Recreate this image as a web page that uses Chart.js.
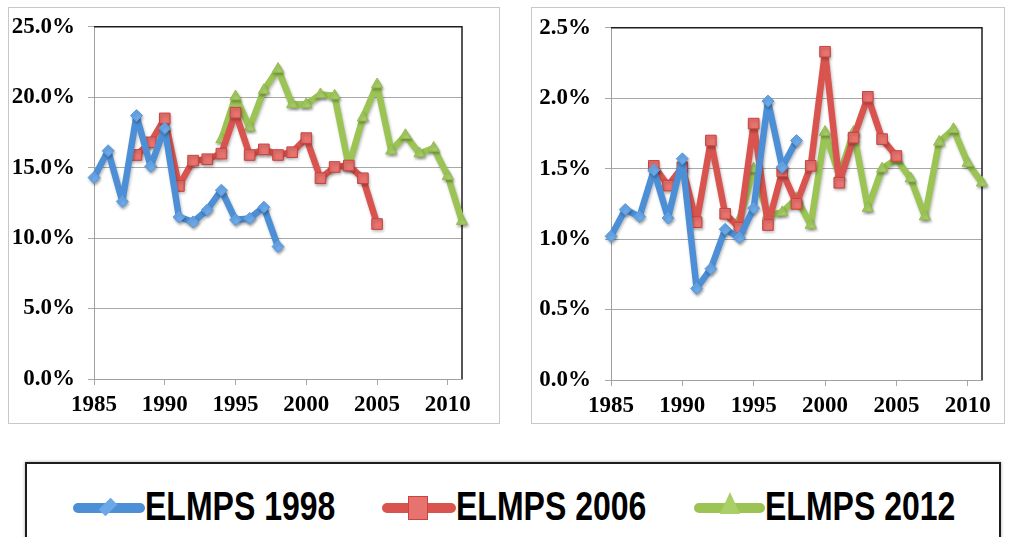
<!DOCTYPE html>
<html>
<head>
<meta charset="utf-8">
<script src="https://cdn.jsdelivr.net/npm/chart.js@4.4.0/dist/chart.umd.min.js"></script>
<style>
  body { margin:0; background:#fff; width:1009px; height:537px; overflow:hidden; position:relative; }
  .box { position:absolute; border:1px solid #c8c8c8; box-sizing:border-box; background:#fff; }
  canvas { position:absolute; top:0; }
  #legend { position:absolute; left:25px; top:462px; width:976px; height:100px; border:2px solid #1e1e1e;
            box-sizing:border-box; background:#fff; box-shadow:0 0 3px rgba(0,0,0,0.35); }
  .item { position:absolute; top:0; height:86px; }
  .ln { position:absolute; top:39px; height:10px; border-radius:5px; }
  .mk { position:absolute; }
  .txt { position:absolute; top:18px; font-family:"Liberation Sans", Arial, sans-serif; font-weight:bold;
         font-size:40px; line-height:48px; color:#000; white-space:nowrap; transform:scaleX(0.8); transform-origin:0 50%; }
</style>
</head>
<body>
<div class="box" style="left:8px;top:7px;width:492px;height:417px;"></div>
<div class="box" style="left:531px;top:7px;width:474px;height:417px;"></div>
<canvas id="left" width="505" height="430" style="left:0"></canvas>
<canvas id="right" width="484" height="430" style="left:525px"></canvas>

<div id="legend">
  <div class="item" style="left:46px">
    <div class="ln" style="left:0;width:72px;background:#4d8fd6"></div>
    <div class="mk" style="left:29px;top:37px;width:12px;height:12px;background:#6aa8e8;transform:rotate(45deg) scale(0.8,1.4)"></div>
    <div class="txt" style="left:72px">ELMPS 1998</div>
  </div>
  <div class="item" style="left:355px">
    <div class="ln" style="left:0;width:74px;background:#d9544f"></div>
    <div class="mk" style="left:26px;top:32px;width:20px;height:24px;background:#e8726e;border:1px solid #c9423e;box-sizing:border-box"></div>
    <div class="txt" style="left:74px">ELMPS 2006</div>
  </div>
  <div class="item" style="left:667px">
    <div class="ln" style="left:0;width:71px;background:#9bc455"></div>
    <div class="mk" style="left:26px;top:28px;width:0;height:0;border-left:10px solid transparent;border-right:10px solid transparent;border-bottom:22px solid #a9cf67"></div>
    <div class="txt" style="left:71px">ELMPS 2012</div>
  </div>
</div>

<script>
// years for each survey
const years1998 = [1985,1986,1987,1988,1989,1990,1991,1992,1993,1994,1995,1996,1997,1998];
const years2006 = [1988,1989,1990,1991,1992,1993,1994,1995,1996,1997,1998,1999,2000,2001,2002,2003,2004,2005];
const years2012 = [1994,1995,1996,1997,1998,1999,2000,2001,2002,2003,2004,2005,2006,2007,2008,2009,2010,2011];

// left panel (percent)
const left1998 = [14.3,16.2,12.6,18.7,15.1,17.8,11.5,11.15,12.0,13.4,11.3,11.4,12.2,9.4];
const left2006 = [15.9,16.8,18.5,13.7,15.5,15.6,16.0,18.9,15.9,16.3,15.9,16.1,17.1,14.25,15.05,15.15,14.25,11.0];
const left2012 = [17.0,20.05,17.85,20.5,22.0,19.5,19.5,20.2,20.1,15.1,18.55,20.9,16.2,17.3,16.0,16.4,14.4,11.2];

// right panel (percent)
const right1998 = [1.02,1.21,1.16,1.49,1.15,1.57,0.65,0.79,1.07,1.01,1.22,1.98,1.51,1.70];
const right2006 = [1.52,1.38,1.51,1.12,1.70,1.18,1.08,1.82,1.10,1.48,1.25,1.52,2.33,1.40,1.72,2.01,1.71,1.59];
const right2012 = [1.14,1.50,1.17,1.19,1.29,1.10,1.76,1.45,1.76,1.22,1.50,1.57,1.43,1.16,1.69,1.78,1.54,1.40];

const seriesNames = ['ELMPS 1998','ELMPS 2006','ELMPS 2012'];

function pairs(xs, ys) {
  return xs.map((x, i) => ({x: x, y: ys[i]}));
}

// top and right border of the plot
const framePlugin = {
  id: 'frame',
  beforeDatasetsDraw(chart) {
    const a = chart.chartArea, c = chart.ctx;
    c.save();
    c.strokeStyle = '#1e1e1e';
    c.lineWidth = 1.5;
    c.beginPath();
    c.moveTo(a.left, a.top);
    c.lineTo(a.right, a.top);
    c.lineTo(a.right, a.bottom);
    c.stroke();
    c.restore();
  }
};

// soft shadow under the lines
const shadowPlugin = {
  id: 'shadow',
  beforeDatasetsDraw(chart) {
    const c = chart.ctx;
    c.save();
    c.shadowColor = 'rgba(0,0,0,0.28)';
    c.shadowBlur = 3;
    c.shadowOffsetX = 1;
    c.shadowOffsetY = 2;
  },
  afterDatasetsDraw(chart) {
    chart.ctx.restore();
  }
};

function makeChart(id, d98, d06, d12, yMax, yStep, pad, yWidth, yPad) {
  const tickFont = {family: '"Liberation Serif", "Times New Roman", serif', size: 23, weight: 'bold'};
  new Chart(document.getElementById(id), {
    type: 'line',
    data: {
      datasets: [
        {label: seriesNames[0], data: pairs(years1998, d98), borderColor: '#4d8fd6', backgroundColor: '#6aa8e8',
         pointStyle: 'rectRot', pointRadius: 6, pointBorderColor: '#5a9be0', pointBorderWidth: 1},
        {label: seriesNames[1], data: pairs(years2006, d06), borderColor: '#d9544f', backgroundColor: '#e8726e',
         pointStyle: 'rect', pointRadius: 7.5, pointBorderColor: '#c9423e', pointBorderWidth: 1},
        {label: seriesNames[2], data: pairs(years2012, d12), borderColor: '#9bc455', backgroundColor: '#a9cf67',
         pointStyle: 'triangle', pointRadius: 6.5, pointBorderColor: '#93bd4c', pointBorderWidth: 1}
      ].map(ds => Object.assign(ds, {borderWidth: 6.5, tension: 0, clip: false,
                                     borderJoinStyle: 'round', borderCapStyle: 'round'}))
    },
    options: {
      responsive: false,
      animation: false,
      layout: {padding: pad},
      plugins: {legend: {display: false}, tooltip: {enabled: false}},
      scales: {
        x: {
          type: 'linear', min: 1985, max: 2011,
          afterFit: s => { s.height = 40; },
          ticks: {stepSize: 5, includeBounds: false, color: '#000', font: tickFont, padding: 6, maxRotation: 0,
                  callback: v => String(v)},
          grid: {drawOnChartArea: false, drawTicks: true, tickLength: 6, color: '#a8a8a8'},
          border: {color: '#a0a0a0', width: 1}
        },
        y: {
          min: 0, max: yMax,
          afterFit: s => { s.width = yWidth; },
          ticks: {stepSize: yStep, color: '#000', font: tickFont, padding: yPad,
                  callback: v => v.toFixed(1) + '%'},
          grid: {color: '#a8a8a8', tickColor: '#a8a8a8', tickLength: 6, lineWidth: 1},
          border: {color: '#a0a0a0', width: 1}
        }
      }
    },
    plugins: [framePlugin, shadowPlugin]
  });
}

makeChart('left', left1998, left2006, left2012, 25, 5, {left: 0, right: 43, top: 21, bottom: 11}, 94, 13);
makeChart('right', right1998, right2006, right2012, 2.5, 0.5, {left: 0, right: 27, top: 22, bottom: 10}, 86, 14);
</script>
</body>
</html>
